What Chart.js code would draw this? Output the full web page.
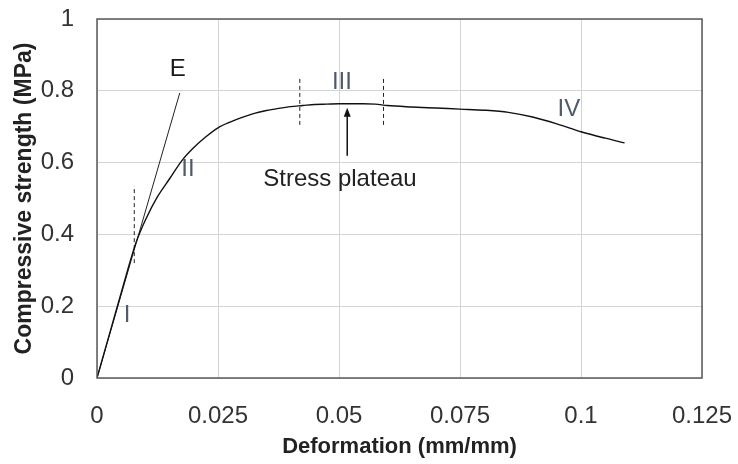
<!DOCTYPE html>
<html>
<head>
<meta charset="utf-8">
<script src="https://cdn.jsdelivr.net/npm/chart.js@4.4.0/dist/chart.umd.min.js"></script>
<style>
  html, body { margin: 0; padding: 0; background: #fff; }
  #wrap { width: 738px; height: 464px; position: relative; }
</style>
</head>
<body>
<div id="wrap"><canvas id="chart"></canvas></div>
<script>
// データ
const STRAIN = [0, 0.002, 0.004, 0.006, 0.008, 0.010, 0.0125, 0.015, 0.0175, 0.020, 0.0225, 0.025, 0.0275, 0.030, 0.0325, 0.035, 0.0375, 0.040, 0.0425, 0.045, 0.0475, 0.050, 0.055, 0.0575, 0.060, 0.065, 0.070, 0.075, 0.080, 0.085, 0.090, 0.095, 0.100, 0.105, 0.109];
const STRESS = [0, 0.095, 0.19, 0.285, 0.375, 0.44, 0.505, 0.555, 0.605, 0.642, 0.672, 0.697, 0.713, 0.726, 0.737, 0.745, 0.751, 0.756, 0.759, 0.762, 0.763, 0.764, 0.764, 0.763, 0.759, 0.755, 0.752, 0.749, 0.746, 0.74, 0.727, 0.708, 0.686, 0.668, 0.655];
const E_LINE_X = [0, 0.0171];
const E_LINE_Y = [0, 0.794];
const DASH_X = [0.0077, 0.0419, 0.0592];
const DASH_Y = [[0.32, 0.535], [0.705, 0.84], [0.705, 0.84]];
const X_TICKS = [0, 0.025, 0.05, 0.075, 0.1, 0.125];
const Y_TICKS = [0, 0.2, 0.4, 0.6, 0.8, 1];

// 注記 (データ座標)
const LABELS = [
    { text: 'E', x: 0.0167, y: 0.859, color: '#1a1a1a' },
    { text: 'I', x: 0.0062, y: 0.175, color: '#4f5a6c' },
    { text: 'II', x: 0.0188, y: 0.58, color: '#4f5a6c' },
    { text: 'III', x: 0.0506, y: 0.823, color: '#4f5a6c' },
    { text: 'IV', x: 0.0975, y: 0.747, color: '#4f5a6c' },
    { text: 'Stress plateau', x: 0.0502, y: 0.552, color: '#222' }
];
const ARROW = { x: 0.0517, from: 0.619, to: 0.753 };

const FONT = "'Liberation Sans', Arial, sans-serif";

const pts = (xs, ys) => xs.map((x, i) => ({ x: x, y: ys[i] }));

const datasets = [
    { data: pts(STRAIN, STRESS), borderColor: '#111', borderWidth: 1.4, pointRadius: 0, cubicInterpolationMode: 'monotone' },
    { data: pts(E_LINE_X, E_LINE_Y), borderColor: '#222', borderWidth: 1, pointRadius: 0 }
];
DASH_X.forEach((x, i) => {
    datasets.push({
        data: pts([x, x], DASH_Y[i]),
        borderColor: '#222', borderWidth: 1, borderDash: [4, 3], pointRadius: 0
    });
});

// スケールのはみ出し余白を無効化
function noOverflow(s) {
    s.paddingTop = 0;
    s.paddingBottom = 0;
    s.paddingLeft = 0;
    s.paddingRight = 0;
}

// 枠線・注記プラグイン
const annotate = {
    id: 'annotate',
    afterDatasetsDraw(chart) {
        const { ctx, chartArea: a, scales: { x, y } } = chart;
        ctx.save();
        ctx.strokeStyle = '#5a5a5a';
        ctx.lineWidth = 1.5;
        ctx.strokeRect(a.left, a.top, a.right - a.left, a.bottom - a.top);

        ctx.textAlign = 'center';
        ctx.textBaseline = 'middle';
        ctx.font = '24px ' + FONT;
        LABELS.forEach(l => {
            ctx.fillStyle = l.color;
            ctx.fillText(l.text, x.getPixelForValue(l.x), y.getPixelForValue(l.y));
        });

        // 矢印
        const ax = x.getPixelForValue(ARROW.x);
        const y0 = y.getPixelForValue(ARROW.from);
        const y1 = y.getPixelForValue(ARROW.to);
        ctx.strokeStyle = '#111';
        ctx.lineWidth = 1.5;
        ctx.beginPath();
        ctx.moveTo(ax, y0);
        ctx.lineTo(ax, y1 + 6);
        ctx.stroke();
        ctx.fillStyle = '#111';
        ctx.beginPath();
        ctx.moveTo(ax, y1);
        ctx.lineTo(ax - 3.5, y1 + 9);
        ctx.lineTo(ax + 3.5, y1 + 9);
        ctx.closePath();
        ctx.fill();
        ctx.restore();
    }
};

new Chart(document.getElementById('chart'), {
    type: 'line',
    data: { datasets: datasets },
    options: {
        responsive: true,
        maintainAspectRatio: false,
        animation: false,
        layout: { padding: { left: 0, right: 36, top: 19, bottom: 0 } },
        plugins: { legend: { display: false }, tooltip: { enabled: false } },
        scales: {
            x: {
                type: 'linear', min: 0, max: 0.125,
                afterBuildTicks: s => { s.ticks = X_TICKS.map(v => ({ value: v })); },
                afterFit: s => { s.height = 86; noOverflow(s); },
                grid: { color: '#d4d4d4', lineWidth: 1, drawTicks: false },
                border: { display: false },
                ticks: {
                    padding: 24, color: '#333', maxRotation: 0,
                    font: { family: FONT, size: 24 },
                    callback: v => String(v)
                },
                title: {
                    display: true, text: 'Deformation (mm/mm)', color: '#222',
                    font: { family: FONT, size: 22, weight: 'bold' }, padding: { top: 0, bottom: 4 }
                }
            },
            y: {
                type: 'linear', min: 0, max: 1,
                afterBuildTicks: s => { s.ticks = Y_TICKS.map(v => ({ value: v })); },
                afterFit: s => { s.width = 97; noOverflow(s); },
                grid: { color: '#d4d4d4', lineWidth: 1, drawTicks: false },
                border: { display: false },
                ticks: {
                    padding: 23, color: '#333',
                    font: { family: FONT, size: 24 },
                    callback: v => String(v)
                },
                title: {
                    display: true, text: 'Compressive strength (MPa)', color: '#222',
                    font: { family: FONT, size: 23, weight: 'bold' }, padding: { top: 11, bottom: 0 }
                }
            }
        }
    },
    plugins: [annotate]
});
</script>
</body>
</html>
